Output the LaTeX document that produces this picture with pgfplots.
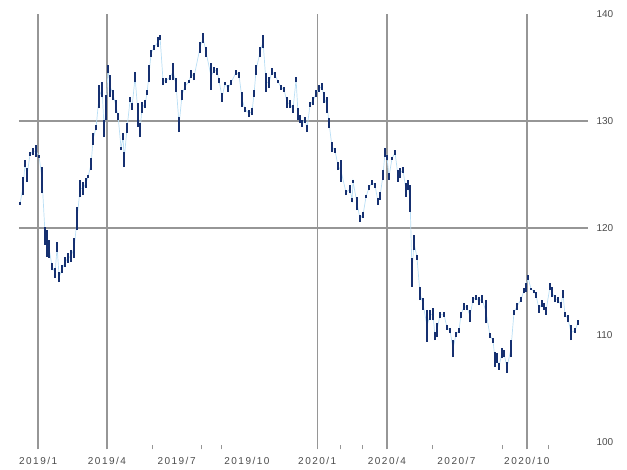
\documentclass[border=0pt]{standalone}
\usepackage{pgfplots}
\pgfplotsset{compat=1.18}
\usepackage{pgfplotstable}
\usepackage{fontspec}
\setmainfont{Liberation Sans}
\definecolor{barblue}{RGB}{22,48,112}
\definecolor{linklue}{RGB}{185,222,245}
\definecolor{gridgray}{RGB}{150,150,150}
\definecolor{labgray}{RGB}{75,75,75}
\pgfplotstableread{
d lo hi
-23.5 122.15 122.43
-19.6 123.08 124.77
-17.0 125.70 126.36
-14.4 124.30 125.61
-10.5 126.73 127.10
-6.5 126.82 127.48
-2.6 126.64 127.76
1.3 126.54 126.82
5.2 123.27 125.70
9.2 118.41 120.09
11.8 117.29 119.81
14.4 117.20 118.88
18.3 116.07 116.73
22.2 115.33 116.26
24.8 117.76 118.69
27.5 114.95 115.89
31.4 115.79 116.54
35.3 116.36 117.29
39.2 116.73 117.66
43.1 116.82 117.94
47.1 117.20 119.07
51.0 119.81 121.96
54.9 122.90 124.49
58.8 123.08 124.30
62.7 123.74 124.67
65.4 124.67 124.95
69.3 125.42 126.54
71.9 127.76 128.88
75.8 129.16 129.63
79.7 131.21 133.36
83.7 132.24 133.64
86.3 128.50 130.09
88.9 130.09 132.43
91.5 134.49 135.23
94.1 132.24 134.30
98.0 131.96 132.90
102.0 130.75 131.96
104.6 130.09 130.75
108.5 127.29 127.57
111.1 128.22 128.88
112.4 125.70 127.10
116.3 128.88 129.81
120.3 131.78 132.24
122.9 131.03 131.68
126.8 133.64 134.58
130.7 129.44 131.68
133.3 128.50 129.81
135.9 130.75 131.78
139.9 131.21 131.96
142.5 132.43 132.90
145.1 133.64 135.23
147.7 135.98 136.64
151.6 136.64 137.10
156.9 136.92 137.85
159.5 137.57 138.04
163.4 133.36 134.02
167.3 133.55 134.02
172.5 133.83 134.30
176.5 133.83 135.42
180.4 132.71 134.02
184.3 128.97 130.37
188.2 131.96 132.90
192.2 132.90 133.64
197.4 133.55 133.83
200.0 134.02 134.77
203.9 133.83 134.49
211.8 136.36 137.38
215.7 137.29 138.22
219.6 135.98 136.92
226.1 132.90 135.42
230.1 134.49 135.05
234.0 134.30 134.95
236.6 133.55 134.02
240.5 131.78 132.62
244.4 133.36 133.64
248.4 132.71 133.36
252.3 133.36 133.83
258.8 134.30 134.77
262.7 134.02 134.58
266.7 131.31 132.71
270.6 130.84 131.31
275.8 130.37 131.03
279.7 130.56 131.21
282.4 132.24 132.90
285.0 134.30 135.23
290.2 135.98 136.92
294.1 136.82 138.04
298.0 132.71 134.49
302.0 133.08 134.11
305.9 134.30 134.95
309.8 134.02 134.58
313.7 133.55 133.83
317.6 132.90 133.36
321.6 132.71 133.17
325.5 131.21 132.24
329.4 131.21 131.96
333.3 130.75 131.50
337.3 133.64 134.11
339.9 130.09 131.21
342.5 129.81 130.56
345.1 129.44 130.09
349.0 129.81 130.37
351.6 128.97 129.63
355.6 131.31 131.78
359.5 131.50 132.24
363.4 132.24 132.90
367.3 132.71 133.36
371.2 132.90 133.55
373.9 131.68 132.71
377.8 130.75 132.24
380.4 129.34 130.28
384.3 127.10 128.04
388.2 127.01 127.48
392.2 125.42 126.17
396.1 124.30 126.36
402.6 123.08 123.55
407.8 123.27 124.02
410.5 122.43 122.80
411.8 124.21 124.49
417.0 121.68 122.90
420.9 120.56 121.21
424.8 120.93 121.50
428.8 122.80 123.08
432.7 123.55 124.02
436.6 124.02 124.49
440.5 123.74 124.21
444.4 122.15 122.80
447.1 122.62 123.36
451.0 124.49 125.42
453.6 126.64 127.48
456.2 126.36 126.82
458.8 124.49 125.14
462.7 126.36 126.64
466.7 126.82 127.29
470.6 124.30 125.42
473.2 124.67 125.61
477.1 125.14 125.70
481.0 122.90 124.21
483.7 123.55 124.49
486.3 121.50 124.02
488.9 114.49 117.20
491.5 117.94 119.35
495.4 117.01 117.48
499.3 113.27 114.49
503.3 112.34 113.46
508.5 109.35 112.34
512.4 111.40 112.34
516.3 111.40 112.52
518.9 109.53 110.28
521.6 109.81 111.12
525.5 111.59 112.15
530.7 111.68 112.15
534.6 110.47 110.93
538.6 110.19 110.65
542.5 107.94 109.53
546.4 109.81 110.28
550.3 110.19 110.65
552.9 111.59 112.15
556.9 112.34 112.99
560.8 112.34 112.80
564.7 111.21 112.34
568.6 112.99 113.55
572.5 113.27 113.74
576.5 112.80 113.55
580.4 112.99 113.74
585.6 111.12 113.27
590.8 109.72 110.19
594.8 109.25 109.72
597.4 107.01 108.41
600.0 107.38 108.32
602.6 106.73 107.38
606.5 107.85 108.79
609.2 107.94 108.60
613.1 106.45 107.48
618.3 107.94 109.53
622.2 111.87 112.34
626.1 112.34 112.99
631.4 113.08 113.55
635.3 113.92 114.39
637.9 114.02 114.86
640.5 115.14 115.61
644.5 114.21 114.39
648.4 113.92 114.21
651.0 113.46 114.02
654.9 112.06 112.80
658.8 112.62 113.27
661.4 112.34 112.99
664.1 111.87 112.62
669.3 114.21 114.86
671.9 113.55 114.49
675.8 113.08 113.74
679.7 112.99 113.55
683.7 112.52 113.08
686.3 113.46 114.21
688.9 111.68 112.15
692.8 111.21 111.87
696.7 109.53 110.93
702.0 110.19 110.65
705.9 110.93 111.40
}\prices
\begin{document}
\begin{tikzpicture}
\begin{axis}[
  name=ax,
  scale only axis,
  width=569pt, height=435.5pt,
  xmin=-25, xmax=719,
  ymin=99.3, ymax=140,
  axis line style={draw=none},
  xtick={0,90,181,273,365,456,547,639},
  xticklabels={2019/1,2019/4,2019/7,2019/10,2020/1,2020/4,2020/7,2020/10},
  major tick length=0pt,
  minor xtick={149,213,240,395,424,515,607,667},
  minor tick length=4pt,
  tick align=inside,
  tick pos=bottom,
  minor tick style={gridgray, line width=0.8pt},
  extra x ticks={0,90,365,456,639},
  extra x tick labels={},
  extra x tick style={grid=major, major grid style={gridgray, line width=1.4pt}},
  ytick={100,110,120,130,140},
  yticklabel pos=right,
  extra y ticks={120,130},
  extra y tick labels={},
  extra y tick style={grid=major, major grid style={gridgray, line width=1.4pt}},
  xmajorgrids=false, ymajorgrids=false,
  /pgf/number format/assume math mode=true,
  ticklabel style={font=\fontsize{10}{12}\selectfont, text=labgray},
  xticklabel style={yshift=-4pt, font=\fontsize{10}{12}\selectfont\addfontfeature{LetterSpace=15}},
  yticklabel style={xshift=5pt},
  clip=false,
]
\addplot[linklue, line width=0.7pt, mark=none] table[x=d, y expr=(\thisrow{lo}+\thisrow{hi})/2] {\prices};
\addplot[draw=none, mark=none,
  error bars/.cd, y dir=plus, y explicit, error mark=none,
  error bar style={draw=barblue, line width=2.3pt, solid}]
  table[x=d, y=lo, y error expr=\thisrow{hi}-\thisrow{lo}] {\prices};
\end{axis}
\pgfresetboundingbox
\path[use as bounding box] ([shift={(-19pt,-20.5pt)}]ax.south west) rectangle ([shift={(39pt,14pt)}]ax.north east);
\end{tikzpicture}
\end{document}
